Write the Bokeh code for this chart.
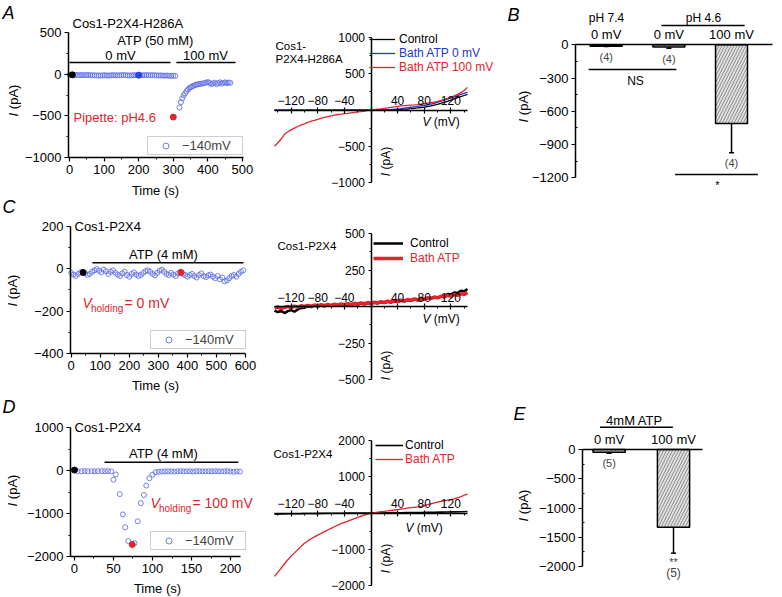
from math import pi
from bokeh.plotting import figure
from bokeh.layouts import row, column
from bokeh.models import (Label, Legend, LegendItem, FixedTicker, Whisker, TeeHead,
                          ColumnDataSource, Range1d, Spacer)
from bokeh.embed import file_html
from bokeh.resources import INLINE

# ------------------------------------------------------------------ data
# Panel A (time course, Cos1-P2X4-H286A)
A0_t = [0, 6, 12, 18, 24, 30, 36, 42, 48, 54,
        60, 66, 72, 78, 84, 90, 96, 102, 108, 114,
        120, 126, 132, 138, 144, 150, 156, 162, 168, 174,
        180, 186, 192, 198, 204, 210, 216, 222, 228, 234,
        240, 246, 252, 258, 264, 270, 276, 282, 288, 294,
        300, 306]
A0_i = [-8, -10, -12, -9, -11, -13, -10, -12, -11, -9,
        -12, -14, -13, -16, -15, -17, -14, -13, -15, -16,
        -14, -12, -13, -15, -14, -12, -11, -13, -15, -16,
        -14, -13, -12, -14, -15, -13, -12, -11, -13, -14,
        -12, -13, -15, -16, -15, -17, -18, -16, -19, -20,
        -18, -21]
A1_t = [318, 322, 326, 330, 334, 338, 342, 346, 350, 354,
        358, 362, 366, 370, 375, 380, 385, 390, 395, 400,
        405, 410, 415, 420, 425, 430, 435, 440, 445, 450,
        455, 460, 465]
A1_i = [-400, -335, -290, -255, -230, -205, -185, -170, -158, -148,
        -140, -132, -126, -122, -118, -115, -112, -108, -100, -95,
        -105, -118, -112, -102, -120, -108, -98, -112, -104, -98,
        -108, -100, -104]
A_mark_t = [8, 200, 300]
A_mark_i = [-8, -12, -515]
A_stim_start = [0, 309]
A_stim_end = [292, 480]

# Panel C (time course, Cos1-P2X4, Vh = 0 mV)
C_t = [0, 8, 16, 24, 32, 40, 48, 56, 64, 72,
       80, 88, 96, 104, 112, 120, 128, 136, 144, 152,
       160, 168, 176, 184, 192, 200, 208, 216, 224, 232,
       240, 248, 256, 264, 272, 280, 288, 296, 304, 312,
       320, 328, 336, 344, 352, 360, 368, 376, 384, 392,
       400, 408, 416, 424, 432, 440, 448, 456, 464, 472,
       480, 488, 496, 504, 512, 520, 528, 536, 544, 552,
       560, 568, 576, 584, 592]
C_i = [-20, -28, -35, -25, -18, -15, -22, -30, -25, -15,
       -8, -2, -10, -18, -5, -12, -25, -15, -8, -20,
       -28, -35, -22, -15, -30, -38, -25, -18, -28, -35,
       -30, -20, -12, -8, -15, -25, -32, -20, -10, -5,
       -15, -25, -30, -20, -28, -35, -22, -15, -25, -30,
       -38, -30, -25, -35, -42, -30, -22, -35, -40, -32,
       -28, -38, -45, -35, -50, -42, -60, -55, -45, -35,
       -30, -38, -25, -15, -8]
C_mark_t = [41, 378]
C_mark_i = [-18, -18]
C_stim = [73, 593]

# Panel D (time course, Cos1-P2X4, Vh = 100 mV)
D_t = [4, 9, 13, 17, 22, 26, 30, 35, 39, 43,
       47, 50, 53, 58, 62, 65, 69, 77, 81, 85,
       89, 92, 96, 100, 104, 108, 112, 116, 120, 124,
       128, 132, 136, 140, 144, 148, 152, 156, 160, 164,
       168, 172, 176, 180, 184, 188, 192, 196, 200, 204,
       208, 212]
D_i = [-15, -20, -12, -18, -15, -20, -16, -14, -18, -15,
       -22, -215, -92, -550, -1020, -1320, -1640, -1690, -1180, -760,
       -570, -350, -180, -100, -40, -30, -25, -22, -18, -20,
       -25, -20, -15, -22, -18, -20, -25, -18, -15, -20,
       -22, -18, -20, -15, -18, -22, -20, -15, -25, -30,
       -20, -25]
D_mark_t = [0, 74]
D_mark_i = [10, -1720]
D_stim = [38.5, 210]

# I-V ramps
V5 = [-145, -140, -135, -130, -125, -120, -115, -110, -105, -100,
      -95, -90, -85, -80, -75, -70, -65, -60, -55, -50,
      -45, -40, -35, -30, -25, -20, -15, -10, -5, 0,
      5, 10, 15, 20, 25, 30, 35, 40, 45, 50,
      55, 60, 65, 70, 75, 80, 85, 90, 95, 100,
      105, 110, 115, 120, 125, 130, 135, 140, 145]
AIV_red = [-500, -455, -400, -335, -300, -275, -250, -228, -205, -190,
           -172, -155, -142, -128, -112, -102, -92, -82, -72, -62,
           -57, -50, -46, -40, -34, -26, -21, -14, -6, 0,
           6, 12, 16, 22, 30, 36, 42, 50, 56, 60,
           64, 68, 70, 74, 80, 86, 94, 100, 110, 120,
           132, 145, 160, 176, 195, 215, 240, 270, 312]
AIV_blue = [0, -2, 1, -1, 0, 2, -1, 0, 1, -2,
            0, 1, -1, 0, 2, 0, -1, 1, 0, -1,
            1, 0, -1, 0, 1, 0, -1, 1, 0, 0,
            1, 2, 3, 4, 6, 8, 11, 15, 20, 26,
            32, 38, 44, 50, 56, 62, 70, 80, 92, 106,
            120, 135, 150, 165, 182, 198, 214, 230, 245]
AIV_black = [-3, -2, -3, -2, -3, -1, -2, -3, -2, -1,
             -2, -1, -2, -1, -2, -1, -1, -2, -1, -1,
             -1, 0, -1, 0, -1, 0, 0, -1, 0, 0,
             0, 1, 1, 2, 3, 4, 5, 6, 8, 11,
             14, 18, 23, 28, 34, 40, 48, 56, 66, 78,
             92, 106, 120, 136, 152, 170, 186, 200, 214]
CIV_red = [-12, -2, -15, -5, 0, -8, 2, -4, 5, 0,
           8, 2, 10, 4, 12, 6, 14, 8, 16, 10,
           18, 12, 20, 14, 22, 17, 25, 19, 27, 22,
           30, 25, 33, 28, 37, 31, 40, 35, 44, 38,
           48, 42, 52, 46, 56, 50, 60, 55, 65, 60,
           70, 65, 76, 70, 82, 76, 88, 82, 95]
CIV_black = [-28, -38, -30, -45, -32, -25, -35, -20, -10, -8,
             0, -4, 6, 0, 8, 2, 10, 4, 12, 6,
             14, 8, 16, 10, 18, 13, 20, 15, 23, 18,
             26, 21, 29, 24, 32, 27, 36, 31, 40, 34,
             44, 38, 48, 42, 52, 47, 58, 52, 63, 60,
             68, 72, 85, 82, 96, 92, 108, 104, 120]
DIV_red = [-1750, -1640, -1520, -1400, -1290, -1190, -1100, -1010, -920, -835,
           -770, -710, -660, -610, -563, -515, -470, -425, -380, -335,
           -295, -260, -225, -188, -153, -120, -88, -58, -30, -5,
           12, 25, 35, 45, 57, 70, 83, 96, 108, 120,
           133, 146, 158, 170, 183, 205, 228, 252, 276, 300,
           318, 336, 354, 372, 390, 420, 450, 490, 520]
V10 = [-145, -135, -125, -115, -105, -95, -85, -75, -65, -55,
       -45, -35, -25, -15, -5, 5, 15, 25, 35, 45,
       55, 65, 75, 85, 95, 105, 115, 125, 135, 145]
DIV_black = [-30, -26, -22, -20, -18, -15, -12, -10, -8, -6,
             -5, -4, -3, -2, -1, 1, 2, 4, 6, 8,
             10, 12, 15, 18, 20, 24, 28, 32, 36, 40]

# Bar charts
B_pos = [1, 2, 3]
B_cats = ["0 mV", "0 mV", "100 mV"]
B_vals = [-12, -20, -711]
B_err = [4, 12, 262]
B_n = ["(4)", "(4)", "(4)"]
E_pos = [1, 2]
E_cats = ["0 mV", "100 mV"]
E_vals = [-45, -1328]
E_err = [20, 444]
E_n = ["(5)", "(5)"]

# ------------------------------------------------------------------ style
FONT = "Liberation Sans"
BLUE_O = "#6272e4"
BLUE_F = "#2443e0"
BLUE_L = "#2536cf"
RED = "#e3232b"
BAR_FILL = "#dedede"
HATCH = "#7d7d7d"
MINUS = "\u2212"

# page cells (x, width) / (y, height), in page pixels
COLS = [(0, 262), (262, 243), (505, 275)]
ROWS = [(0, 198), (198, 198), (396, 200)]


def make(col, rw, box, xloc="below"):
    """box = (left, right, top, bottom) page pixels of the axes and the
    data values (x0, x1, y0, y1) found there; the frame fills the cell."""
    cx, w = COLS[col]
    ry, h = ROWS[rw]
    L, R, T, B, x0, x1, y0, y1 = box
    sx = (x1 - x0) / (R - L)
    sy = (y1 - y0) / (B - T)
    xr = (x0 - (L - cx) * sx, x1 + (cx + w - R) * sx)
    yr = (y0 - (ry + h - B) * sy, y1 + (T - ry) * sy)
    p = figure(width=w, height=h, x_range=Range1d(*xr), y_range=Range1d(*yr),
               output_backend="svg", toolbar_location=None, title=None,
               min_border_left=0, min_border_right=0, min_border_top=0,
               min_border_bottom=0, x_axis_location=xloc)
    p.xgrid.visible = False
    p.ygrid.visible = False
    p.outline_line_color = None
    p.background_fill_color = "white"
    g = dict(L=cx, R=cx + w, T=ry, B=ry + h, x0=xr[0], x1=xr[1], y0=yr[0], y1=yr[1])
    return p, g


def lab(p, g, rx, ry, text, size=13, color="black", align="left",
        angle=0.0, style="normal"):
    x = g["x0"] + (rx - g["L"]) / (g["R"] - g["L"]) * (g["x1"] - g["x0"])
    y = g["y1"] - (ry - g["T"]) / (g["B"] - g["T"]) * (g["y1"] - g["y0"])
    p.add_layout(Label(x=x, y=y, text=text, text_font=FONT,
                       text_font_size=f"{size}px", text_color=color,
                       text_align=align, text_baseline="middle",
                       angle=angle, text_font_style=style))


def ipa(p, g, cx, cy, size=13):
    bottom = cy + 2.445 * size / 2
    lab(p, g, cx, bottom, "I", size, angle=pi / 2, style="italic")
    lab(p, g, cx, bottom - 0.556 * size, "(pA)", size, angle=pi / 2)


def vmv(p, g, left, cy, size=12):
    lab(p, g, left, cy, "V", size, style="italic")
    lab(p, g, left + 0.945 * size, cy, "(mV)", size)


def vhold(p, g, left, cy, rest):
    lab(p, g, left, cy, "V", 14, RED, style="italic")
    lab(p, g, left + 8.5, cy + 6, "holding", 10, RED)
    lab(p, g, left + 42, cy, rest, 14, RED)


def minus_over(ticks):
    return {t: (MINUS + str(abs(t))) if t < 0 else str(t) for t in ticks}


def axis_style(ax, size, tin=0, tout=4, min_in=0, min_out=2, standoff=3):
    ax.axis_line_width = 1.5
    ax.axis_line_color = "black"
    ax.major_tick_line_width = 1.2
    ax.minor_tick_line_width = 1
    ax.major_tick_in = tin
    ax.major_tick_out = tout
    ax.minor_tick_in = min_in
    ax.minor_tick_out = min_out
    ax.major_label_standoff = standoff
    ax.major_label_text_font = FONT
    ax.major_label_text_font_size = f"{size}px"
    ax.major_label_text_color = "black"


def style_ts(p, box, xt, xm, yt, ym):
    x0, x1, y0, y1 = box[4:]
    xa, ya = p.xaxis[0], p.yaxis[0]
    axis_style(xa, 13)
    axis_style(ya, 13)
    xa.fixed_location = y0
    xa.bounds = (x0, x1)
    ya.fixed_location = x0
    ya.bounds = (y0, y1)
    xa.ticker = FixedTicker(ticks=xt, minor_ticks=xm)
    ya.ticker = FixedTicker(ticks=yt, minor_ticks=ym)
    xa.major_label_overrides = minus_over(xt)
    ya.major_label_overrides = minus_over(yt)


def ts_legend(p, g, r, left, bottom):
    leg = Legend(items=[LegendItem(label=MINUS + "140mV", renderers=[r])],
                 location=(left - g["L"], g["B"] - bottom), margin=0, padding=1,
                 glyph_width=33, glyph_height=15, label_height=15,
                 label_standoff=0, label_width=59,
                 border_line_color="#9c9cb0", border_line_width=1,
                 background_fill_color="white", background_fill_alpha=1,
                 label_text_font=FONT, label_text_font_size="13px")
    p.add_layout(leg)


def style_iv(p, box, yt, ym):
    x0, x1, y0, y1 = box[4:]
    p.xaxis.fixed_location = 0
    p.yaxis.fixed_location = 0
    xa, ya = p.xaxis[0], p.yaxis[0]
    axis_style(xa, 12, tin=3, tout=3, min_in=2, min_out=0, standoff=2)
    axis_style(ya, 12, tin=0, tout=3, min_in=0, min_out=2, standoff=3)
    xa.bounds = (x0, x1)
    ya.bounds = (y0, y1)
    xt = [-120, -80, -40, 0, 40, 80, 120]
    xa.ticker = FixedTicker(ticks=xt, minor_ticks=[-140, -100, -60, -20, 20, 60, 100, 140])
    ya.ticker = FixedTicker(ticks=yt, minor_ticks=ym)
    xo = minus_over(xt)
    xo[0] = ""
    yo = minus_over(yt)
    yo[0] = ""
    xa.major_label_overrides = xo
    ya.major_label_overrides = yo


def iv_legend(p, g, r, text, color, glyph_left, cy, gw, standoff):
    leg = Legend(items=[LegendItem(label=text, renderers=[r])],
                 location=(glyph_left - g["L"], g["B"] - cy - 8),
                 margin=0, padding=0, spacing=0, glyph_width=gw,
                 glyph_height=16, label_height=16, label_standoff=standoff,
                 border_line_color=None, background_fill_alpha=0,
                 label_text_font=FONT, label_text_font_size="12px",
                 label_text_color=color)
    p.add_layout(leg)


def bar_style(p, box, yt, ym, cats, pos):
    x0, x1, y0, y1 = box[4:]
    p.xaxis.fixed_location = 0
    xa, ya = p.xaxis[0], p.yaxis[0]
    axis_style(xa, 13, tin=0, tout=0, min_in=0, min_out=0, standoff=3)
    axis_style(ya, 13, tin=0, tout=4, min_in=2, min_out=0, standoff=3)
    xa.bounds = (x0, x1)
    ya.fixed_location = x0
    ya.bounds = (y0, y1)
    xa.ticker = FixedTicker(ticks=pos, minor_ticks=[])
    xa.major_label_overrides = {k: c for k, c in zip(pos, cats)}
    ya.ticker = FixedTicker(ticks=yt, minor_ticks=ym)
    ya.major_label_overrides = minus_over(yt)


def open_pts(p, t, i):
    return p.scatter(t, i, marker="circle", size=5, fill_color=None,
                     line_color=BLUE_O, line_width=0.9)

# ------------------------------------------------------------------ Panel A
boxA = (68, 243, 32, 157, -3, 503, -1000, 500)
pA, gA = make(0, 0, boxA)
style_ts(pA, boxA, [0, 100, 200, 300, 400, 500], [50, 150, 250, 350, 450],
         [-1000, -500, 0, 500], [-750, -250, 250])
pA.segment(x0=A_stim_start, y0=[140, 140], x1=A_stim_end, y1=[140, 140],
           line_color="black", line_width=1.6)
rA = open_pts(pA, A0_t, A0_i)
open_pts(pA, A1_t, A1_i)
pA.scatter(A_mark_t, A_mark_i, marker="circle", size=6,
           fill_color=["black", BLUE_F, RED], line_color=["black", BLUE_F, RED])
ts_legend(pA, gA, rA, 147, 155)
lab(pA, gA, 2, 12, "A", 18, style="italic")
lab(pA, gA, 72, 23, "Cos1-P2X4-H286A", 13)
lab(pA, gA, 155, 40, "ATP (50 mM)", 13, align="center")
lab(pA, gA, 120, 55, "0 mV", 13, align="center")
lab(pA, gA, 205, 55, "100 mV", 13, align="center")
lab(pA, gA, 73, 117, "Pipette: pH4.6", 13, RED)
lab(pA, gA, 155, 190, "Time (s)", 13, align="center")
ipa(pA, gA, 13, 100)

# ------------------------------------------------------------------ Panel A IV
boxAIV = (274, 467, 37, 182, -145, 145, -1000, 1000)
pAIV, gAIV = make(1, 0, boxAIV, xloc="above")
style_iv(pAIV, boxAIV, [-1000, -500, 0, 500, 1000], [-750, -250, 250, 750])
rk = pAIV.line(V5, AIV_black, line_color="black", line_width=1.3)
rb = pAIV.line(V5, AIV_blue, line_color=BLUE_L, line_width=1.3)
rr = pAIV.line(V5, AIV_red, line_color=RED, line_width=1.3)
iv_legend(pAIV, gAIV, rk, "Control", "black", 369, 39, 26, 4)
iv_legend(pAIV, gAIV, rb, "Bath ATP 0 mV", BLUE_L, 369, 53, 26, 4)
iv_legend(pAIV, gAIV, rr, "Bath ATP 100 mV", RED, 369, 67, 26, 4)
lab(pAIV, gAIV, 275, 45, "Cos1-", 11.5)
lab(pAIV, gAIV, 275, 58, "P2X4-H286A", 11.5)
vmv(pAIV, gAIV, 422, 121)
ipa(pAIV, gAIV, 385, 161, 12)

# ------------------------------------------------------------------ Panel B
boxB = (575, 772, 44.3, 177.3, 0.51, 3.654, -1200, 0)
pB, gB = make(2, 0, boxB, xloc="above")
bar_style(pB, boxB, [-1200, -900, -600, -300, 0], [-1050, -750, -450, -150],
          B_cats, B_pos)
pB.vbar(x=B_pos, width=0.51, top=0, bottom=B_vals, fill_color=BAR_FILL,
        line_color="black", line_width=1.5, hatch_pattern="/",
        hatch_color=HATCH, hatch_scale=6, hatch_weight=0.8)
srcB = ColumnDataSource(dict(base=B_pos,
                             upper=[v + e for v, e in zip(B_vals, B_err)],
                             lower=[v - e for v, e in zip(B_vals, B_err)]))
pB.add_layout(Whisker(source=srcB, base="base", upper="upper", lower="lower",
                      line_width=1.5,
                      upper_head=TeeHead(size=5, line_width=1.5),
                      lower_head=TeeHead(size=5, line_width=1.5)))
pB.segment(x0=[B_pos[0] - 0.28, B_pos[1] - 0.12, B_pos[1] + 0.1],
           y0=[-222, 174, -1171],
           x1=[B_pos[1] + 0.12, B_pos[2] + 0.21, B_pos[2] + 0.42],
           y1=[-222, 174, -1171], line_color="black", line_width=1.5)
for xp, v, e, n in zip(B_pos, B_vals, B_err, B_n):
    pB.add_layout(Label(x=xp, y=v - e - 95, text=n, text_font=FONT,
                        text_font_size="11px", text_align="center",
                        text_baseline="middle"))
lab(pB, gB, 507, 14, "B", 18, style="italic")
lab(pB, gB, 606, 17, "pH 7.4", 12, align="center")
lab(pB, gB, 703, 17, "pH 4.6", 12, align="center")
lab(pB, gB, 635, 80, "NS", 12, align="center")
lab(pB, gB, 717, 184, "*", 11, align="center")
ipa(pB, gB, 523, 106)

# ------------------------------------------------------------------ Panel C
boxC = (70, 245, 225.7, 353, -2.4, 600, -400, 200)
pC, gC = make(0, 1, boxC)
style_ts(pC, boxC, [0, 100, 200, 300, 400, 500, 600], [50, 150, 250, 350, 450, 550],
         [-400, -200, 0, 200], [-300, -100, 100])
pC.segment(x0=[C_stim[0]], y0=[28], x1=[C_stim[1]], y1=[28],
           line_color="black", line_width=1.6)
rC = open_pts(pC, C_t, C_i)
pC.scatter(C_mark_t, C_mark_i, marker="circle", size=6,
           fill_color=["black", RED], line_color=["black", RED])
ts_legend(pC, gC, rC, 150, 349)
lab(pC, gC, 2, 206, "C", 18, style="italic")
lab(pC, gC, 74, 226, "Cos1-P2X4", 13)
lab(pC, gC, 163, 254, "ATP (4 mM)", 13, align="center")
vhold(pC, gC, 82, 302, "= 0 mV")
lab(pC, gC, 155, 385, "Time (s)", 13, align="center")
ipa(pC, gC, 12, 290)

# ------------------------------------------------------------------ Panel C IV
boxCIV = (274, 467, 233, 379, -145, 145, -500, 500)
pCIV, gCIV = make(1, 1, boxCIV, xloc="above")
style_iv(pCIV, boxCIV, [-500, -250, 0, 250, 500], [-375, -125, 125, 375])
rk = pCIV.line(V5, CIV_black, line_color="black", line_width=2.5)
rr = pCIV.line(V5, CIV_red, line_color=RED, line_width=3.5)
iv_legend(pCIV, gCIV, rk, "Control", "black", 373, 243, 30, 7)
iv_legend(pCIV, gCIV, rr, "Bath ATP", RED, 373, 258, 30, 7)
lab(pCIV, gCIV, 277, 245, "Cos1-P2X4", 11.5)
vmv(pCIV, gCIV, 422, 318)
ipa(pCIV, gCIV, 385, 365, 12)

spacer2 = Spacer(width=COLS[2][1], height=ROWS[1][1])

# ------------------------------------------------------------------ Panel D
boxD = (70, 240, 427, 556, -5.1, 212.8, -2000, 1000)
pD, gD = make(0, 2, boxD)
style_ts(pD, boxD, [0, 50, 100, 150, 200], [25, 75, 125, 175],
         [-2000, -1000, 0, 1000], [-1500, -500, 500])
pD.segment(x0=[D_stim[0]], y0=[193], x1=[D_stim[1]], y1=[193],
           line_color="black", line_width=1.6)
rD = open_pts(pD, D_t, D_i)
pD.scatter(D_mark_t, D_mark_i, marker="circle", size=6,
           fill_color=["black", RED], line_color=["black", RED])
ts_legend(pD, gD, rD, 150, 550)
lab(pD, gD, 2, 406, "D", 18, style="italic")
lab(pD, gD, 74, 427, "Cos1-P2X4", 13)
lab(pD, gD, 163, 453, "ATP (4 mM)", 13, align="center")
vhold(pD, gD, 150, 502, "= 100 mV")
lab(pD, gD, 157, 588, "Time (s)", 13, align="center")
ipa(pD, gD, 12, 490)

# ------------------------------------------------------------------ Panel D IV
boxDIV = (274, 467, 440, 585, -145, 145, -2000, 2000)
pDIV, gDIV = make(1, 2, boxDIV, xloc="above")
style_iv(pDIV, boxDIV, [-2000, -1000, 0, 1000, 2000], [-1500, -500, 500, 1500])
rk = pDIV.line(V10, DIV_black, line_color="black", line_width=1.6)
rr = pDIV.line(V5, DIV_red, line_color=RED, line_width=1.3)
iv_legend(pDIV, gDIV, rk, "Control", "black", 375, 445, 28, 2)
iv_legend(pDIV, gDIV, rr, "Bath ATP", RED, 375, 459, 28, 2)
lab(pDIV, gDIV, 273, 453, "Cos1-P2X4", 11.5)
vmv(pDIV, gDIV, 405, 527)
ipa(pDIV, gDIV, 385, 558, 12)

# ------------------------------------------------------------------ Panel E
boxE = (582, 702, 449, 566, 0.587, 2.45, -2000, 0)
pE, gE = make(2, 2, boxE, xloc="above")
bar_style(pE, boxE, [-2000, -1500, -1000, -500, 0], [-1750, -1250, -750, -250],
          E_cats, E_pos)
pE.vbar(x=E_pos, width=0.5, top=0, bottom=E_vals, fill_color=BAR_FILL,
        line_color="black", line_width=1.5, hatch_pattern="/",
        hatch_color=HATCH, hatch_scale=6, hatch_weight=0.8)
srcE = ColumnDataSource(dict(base=E_pos,
                             upper=[v + e for v, e in zip(E_vals, E_err)],
                             lower=[v - e for v, e in zip(E_vals, E_err)]))
pE.add_layout(Whisker(source=srcE, base="base", upper="upper", lower="lower",
                      line_width=1.5,
                      upper_head=TeeHead(size=5, line_width=1.5),
                      lower_head=TeeHead(size=5, line_width=1.5)))
pE.segment(x0=[E_pos[0] - 0.14], y0=[380], x1=[E_pos[1] - 0.01], y1=[380],
           line_color="black", line_width=1.5)
pE.add_layout(Label(x=E_pos[0], y=E_vals[0] - E_err[0] - 168, text=E_n[0],
                    text_font=FONT, text_font_size="11px", text_align="center",
                    text_baseline="middle"))
pE.add_layout(Label(x=E_pos[1], y=E_vals[1] - E_err[1] - 150, text="**",
                    text_font=FONT, text_font_size="11px", text_align="center",
                    text_baseline="middle"))
pE.add_layout(Label(x=E_pos[1], y=E_vals[1] - E_err[1] - 340, text=E_n[1],
                    text_font=FONT, text_font_size="12px", text_align="center",
                    text_baseline="middle"))
lab(pE, gE, 513, 413, "E", 18, style="italic")
lab(pE, gE, 634, 420, "4mM ATP", 13, align="center")
ipa(pE, gE, 523, 505)

# ------------------------------------------------------------------ layout
layout = column(row(pA, pAIV, pB), row(pC, pCIV, spacer2), row(pD, pDIV, pE))
open("out.html", "w").write(file_html(layout, INLINE))
